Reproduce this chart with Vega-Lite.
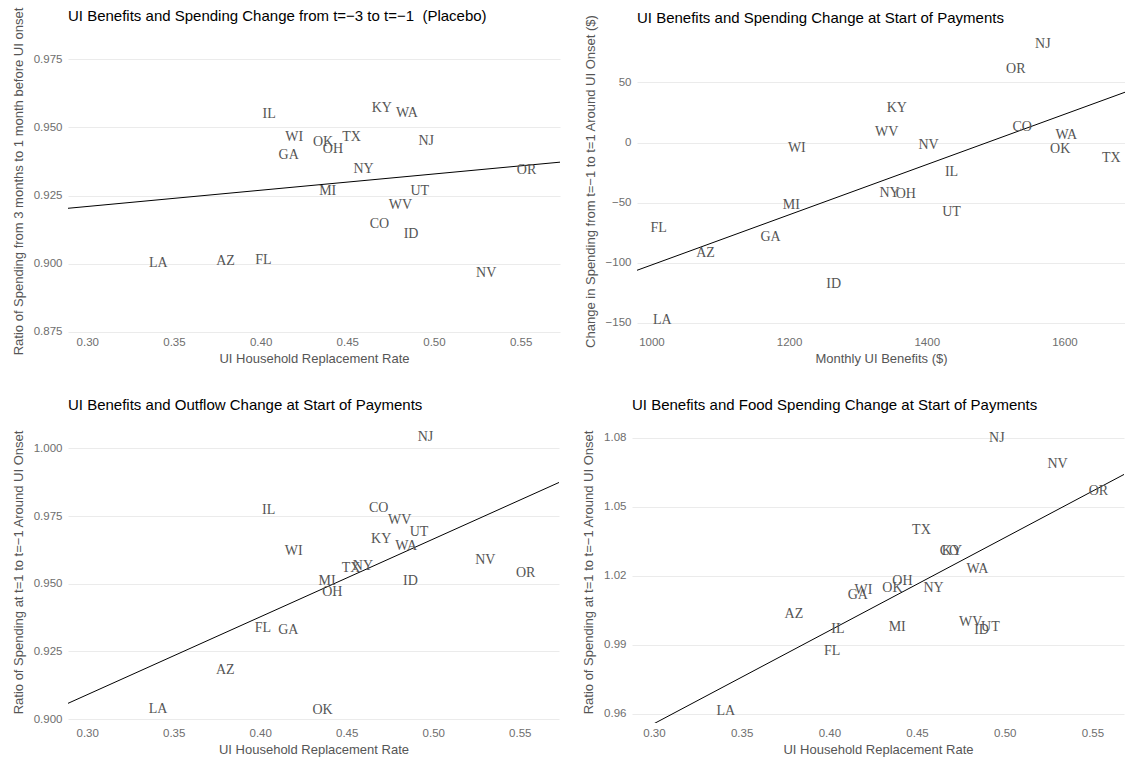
{
  "$schema": "https://vega.github.io/schema/vega-lite/v6.json",
  "background": "white",
  "padding": {"left": 12, "top": 7, "right": 0, "bottom": 0},
  "datasets": {
    "states": [
      {"state": "AZ", "rr": 0.3798, "benefits": 1078.6, "placebo": 0.9008, "spend_change": -91.6, "outflow": 0.9182, "food": 1.0033},
      {"state": "CO", "rr": 0.4685, "benefits": 1538.7, "placebo": 0.9147, "spend_change": 13.1, "outflow": 0.9780, "food": 1.0307},
      {"state": "FL", "rr": 0.4016, "benefits": 1010.5, "placebo": 0.9013, "spend_change": -71.5, "outflow": 0.9336, "food": 0.9873},
      {"state": "GA", "rr": 0.4162, "benefits": 1173.0, "placebo": 0.9400, "spend_change": -79.1, "outflow": 0.9330, "food": 1.0118},
      {"state": "ID", "rr": 0.4868, "benefits": 1264.7, "placebo": 0.9108, "spend_change": -118.2, "outflow": 0.9511, "food": 0.9964},
      {"state": "IL", "rr": 0.4049, "benefits": 1436.0, "placebo": 0.9551, "spend_change": -24.3, "outflow": 0.9771, "food": 0.9968},
      {"state": "KY", "rr": 0.4699, "benefits": 1356.4, "placebo": 0.9571, "spend_change": 28.5, "outflow": 0.9666, "food": 1.0307},
      {"state": "LA", "rr": 0.3410, "benefits": 1015.7, "placebo": 0.9003, "spend_change": -147.8, "outflow": 0.9037, "food": 0.9612},
      {"state": "MI", "rr": 0.4387, "benefits": 1203.3, "placebo": 0.9265, "spend_change": -52.0, "outflow": 0.9509, "food": 0.9978},
      {"state": "NJ", "rr": 0.4955, "benefits": 1568.6, "placebo": 0.9450, "spend_change": 82.1, "outflow": 1.0041, "food": 1.0801},
      {"state": "NV", "rr": 0.5301, "benefits": 1402.5, "placebo": 0.8964, "spend_change": -2.0, "outflow": 0.9589, "food": 1.0684},
      {"state": "NY", "rr": 0.4594, "benefits": 1346.0, "placebo": 0.9348, "spend_change": -41.9, "outflow": 0.9566, "food": 1.0147},
      {"state": "OH", "rr": 0.4417, "benefits": 1369.5, "placebo": 0.9422, "spend_change": -42.7, "outflow": 0.9470, "food": 1.0175},
      {"state": "OK", "rr": 0.4360, "benefits": 1593.8, "placebo": 0.9447, "spend_change": -5.0, "outflow": 0.9034, "food": 1.0147},
      {"state": "OR", "rr": 0.5534, "benefits": 1529.3, "placebo": 0.9344, "spend_change": 61.2, "outflow": 0.9539, "food": 1.0567},
      {"state": "TX", "rr": 0.4525, "benefits": 1668.2, "placebo": 0.9464, "spend_change": -12.6, "outflow": 0.9560, "food": 1.0400},
      {"state": "UT", "rr": 0.4918, "benefits": 1436.0, "placebo": 0.9265, "spend_change": -57.5, "outflow": 0.9691, "food": 0.9975},
      {"state": "WA", "rr": 0.4844, "benefits": 1602.7, "placebo": 0.9554, "spend_change": 6.1, "outflow": 0.9641, "food": 1.0230},
      {"state": "WI", "rr": 0.4194, "benefits": 1211.2, "placebo": 0.9464, "spend_change": -4.7, "outflow": 0.9621, "food": 1.0138},
      {"state": "WV", "rr": 0.4806, "benefits": 1341.7, "placebo": 0.9214, "spend_change": 8.7, "outflow": 0.9736, "food": 0.9997}
    ],
    "fit1": [{"rr": 0.28, "placebo": 0.9198}, {"rr": 0.58, "placebo": 0.9377}],
    "fit2": [{"benefits": 970, "spend_change": -108.3}, {"benefits": 1700, "spend_change": 44.4}],
    "fit3": [{"rr": 0.28, "outflow": 0.9033}, {"rr": 0.58, "outflow": 0.9895}],
    "fit4": [{"rr": 0.28, "food": 0.9475}, {"rr": 0.58, "food": 1.0689}]
  },
  "config": {
    "view": {"stroke": null},
    "font": "Liberation Sans",
    "axis": {
      "domain": false,
      "ticks": false,
      "tickSize": 0,
      "labelColor": "#6e6e6e",
      "labelFontSize": 11.5,
      "titleColor": "#555555",
      "titleFontSize": 13,
      "titleFontWeight": "normal",
      "gridColor": "#ebebeb",
      "gridWidth": 1.1
    },
    "axisX": {"grid": false, "labelPadding": 4, "titlePadding": 5},
    "axisY": {"grid": true, "labelPadding": 6, "titlePadding": 8},
    "title": {"anchor": "start", "frame": "group", "fontSize": 15, "fontWeight": "normal", "color": "#000000", "offset": 8, "font": "Liberation Sans"},
    "text": {"font": "Liberation Serif", "fontSize": 14, "color": "#555555", "baseline": "middle", "align": "center"}
  },
  "spacing": 32,
  "vconcat": [
    {
      "spacing": 24,
      "hconcat": [
        {
          "title": {"text": "UI Benefits and Spending Change from t=−3 to t=−1\u00a0 (Placebo)", "offset": -17},
          "width": 492,
          "height": 302,
          "layer": [
            {
              "data": {"name": "fit1"},
              "mark": {"type": "line", "color": "#000000", "strokeWidth": 1, "clip": true},
              "encoding": {
                "x": {"field": "rr", "type": "quantitative", "scale": {"domain": [0.2889, 0.5727], "nice": false, "zero": false}, "axis": {"title": "UI Household Replacement Rate", "values": [0.3, 0.35, 0.4, 0.45, 0.5, 0.55], "format": ".2f"}},
                "y": {"field": "placebo", "type": "quantitative", "scale": {"domain": [0.8749, 0.9858], "nice": false, "zero": false}, "axis": {"title": "Ratio of Spending from 3 months to 1 month before UI onset", "values": [0.875, 0.9, 0.925, 0.95, 0.975], "format": ".3f"}}
              }
            },
            {
              "data": {"name": "states"},
              "mark": {"type": "text"},
              "encoding": {
                "x": {"field": "rr", "type": "quantitative", "axis": {"title": "UI Household Replacement Rate"}},
                "y": {"field": "placebo", "type": "quantitative", "axis": {"title": "Ratio of Spending from 3 months to 1 month before UI onset"}},
                "text": {"field": "state"}
              }
            }
          ]
        },
        {
          "title": {"text": "UI Benefits and Spending Change at Start of Payments", "offset": -12},
          "width": 488,
          "height": 302,
          "layer": [
            {
              "data": {"name": "fit2"},
              "mark": {"type": "line", "color": "#000000", "strokeWidth": 1, "clip": true},
              "encoding": {
                "x": {"field": "benefits", "type": "quantitative", "scale": {"domain": [979, 1688], "nice": false, "zero": false}, "axis": {"title": "Monthly UI Benefits ($)", "values": [1000, 1200, 1400, 1600], "format": "d"}},
                "y": {"field": "spend_change", "type": "quantitative", "scale": {"domain": [-157.8, 93.7], "nice": false, "zero": false}, "axis": {"title": "Change in Spending from t=−1 to t=1 Around UI Onset ($)", "values": [-150, -100, -50, 0, 50], "format": "d"}}
              }
            },
            {
              "data": {"name": "states"},
              "mark": {"type": "text"},
              "encoding": {
                "x": {"field": "benefits", "type": "quantitative", "axis": {"title": "Monthly UI Benefits ($)"}},
                "y": {"field": "spend_change", "type": "quantitative", "axis": {"title": "Change in Spending from t=−1 to t=1 Around UI Onset ($)"}},
                "text": {"field": "state"}
              }
            }
          ]
        }
      ]
    },
    {
      "spacing": 23,
      "hconcat": [
        {
          "title": "UI Benefits and Outflow Change at Start of Payments",
          "width": 491,
          "height": 302,
          "layer": [
            {
              "data": {"name": "fit3"},
              "mark": {"type": "line", "color": "#000000", "strokeWidth": 1, "clip": true},
              "encoding": {
                "x": {"field": "rr", "type": "quantitative", "scale": {"domain": [0.2889, 0.5727], "nice": false, "zero": false}, "axis": {"title": "UI Household Replacement Rate", "values": [0.3, 0.35, 0.4, 0.45, 0.5, 0.55], "format": ".2f"}},
                "y": {"field": "outflow", "type": "quantitative", "scale": {"domain": [0.8986, 1.0101], "nice": false, "zero": false}, "axis": {"title": "Ratio of Spending at t=1 to t=−1 Around UI Onset", "values": [0.9, 0.925, 0.95, 0.975, 1.0], "format": ".3f"}}
              }
            },
            {
              "data": {"name": "states"},
              "mark": {"type": "text"},
              "encoding": {
                "x": {"field": "rr", "type": "quantitative", "axis": {"title": "UI Household Replacement Rate"}},
                "y": {"field": "outflow", "type": "quantitative", "axis": {"title": "Ratio of Spending at t=1 to t=−1 Around UI Onset"}},
                "text": {"field": "state"}
              }
            }
          ]
        },
        {
          "title": "UI Benefits and Food Spending Change at Start of Payments",
          "width": 492,
          "height": 302,
          "layer": [
            {
              "data": {"name": "fit4"},
              "mark": {"type": "line", "color": "#000000", "strokeWidth": 1, "clip": true},
              "encoding": {
                "x": {"field": "rr", "type": "quantitative", "scale": {"domain": [0.2875, 0.568], "nice": false, "zero": false}, "axis": {"title": "UI Household Replacement Rate", "values": [0.3, 0.35, 0.4, 0.45, 0.5, 0.55], "format": ".2f"}},
                "y": {"field": "food", "type": "quantitative", "scale": {"domain": [0.9559, 1.0873], "nice": false, "zero": false}, "axis": {"title": "Ratio of Spending at t=1 to t=−1 Around UI Onset", "values": [0.96, 0.99, 1.02, 1.05, 1.08], "format": ".2f"}}
              }
            },
            {
              "data": {"name": "states"},
              "mark": {"type": "text"},
              "encoding": {
                "x": {"field": "rr", "type": "quantitative", "axis": {"title": "UI Household Replacement Rate"}},
                "y": {"field": "food", "type": "quantitative", "axis": {"title": "Ratio of Spending at t=1 to t=−1 Around UI Onset"}},
                "text": {"field": "state"}
              }
            }
          ]
        }
      ]
    }
  ]
}
